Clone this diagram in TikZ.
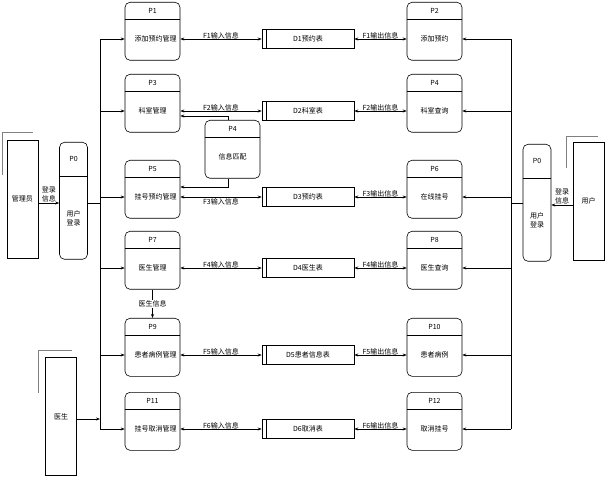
\documentclass[tikz,border=0pt]{standalone}
\usepackage{fontspec}
\setmainfont{Liberation Serif}
\newfontfamily\cjk{Noto Sans CJK SC}
\usetikzlibrary{arrows.meta}

\tikzset{
  procbox/.style={draw, rounded corners=5pt, minimum width=55pt, minimum height=58pt, anchor=north, inner sep=0pt},
  logbox/.style={draw, rounded corners=5pt, minimum width=28pt, minimum height=117pt, anchor=north, inner sep=0pt},
  storebox/.style={draw, minimum width=92pt, minimum height=19pt, inner sep=0pt},
  entbox/.style={draw, minimum width=31pt, minimum height=118pt, anchor=north, inner sep=0pt},
  shade/.style={draw=gray, line width=1pt},
  txt/.style={font=\cjk\fontsize{7}{9}\selectfont, inner sep=1pt, align=center},
  flow/.style={-{Stealth[length=4pt,width=3pt]}},
  dflow/.style={{Stealth[length=4pt,width=3pt]}-{Stealth[length=4pt,width=3pt]}}
}
% process box with header
\newcommand{\proc}[5]{%
  \node[procbox] (#1) at (#2,#3) {};
  \draw ([yshift=-17pt]#1.north west) -- ([yshift=-17pt]#1.north east);
  \node[txt] at ([yshift=-8.5pt]#1.north) {#4};
  \node[txt, text width=36pt] (#1t) at ([yshift=-37pt]#1.north) {#5};}
% data store
\newcommand{\store}[3]{%
  \node[storebox] (#1) at (308,#2) {};
  \draw ([xshift=5pt]#1.north west) -- ([xshift=5pt]#1.south west);
  \node[txt] at (#1) {#3};}

\begin{document}
\begin{tikzpicture}[x=1pt, y=-1pt, line width=0.6pt]
\useasboundingbox (0,0) rectangle (605,478);

% processes
\proc{p1}{152.5}{2}{P1}{添加预约管理}
\proc{p3}{152.5}{74}{P3}{科室管理}
\proc{p5}{152.5}{160}{P5}{挂号预约管理}
\proc{p7}{152.5}{231}{P7}{医生管理}
\proc{p9}{152.5}{318}{P9}{患者病例管理}
\proc{p11}{152.5}{392}{P11}{挂号取消管理}
\proc{p2}{434.5}{2}{P2}{添加预约}
\proc{p4r}{434.5}{74}{P4}{科室查询}
\proc{p6}{434.5}{160}{P6}{在线挂号}
\proc{p8}{434.5}{231}{P8}{医生查询}
\proc{p10}{434.5}{318}{P10}{患者病例}
\proc{p12}{434.5}{392}{P12}{取消挂号}
\proc{p4}{232.5}{120}{P4}{信息匹配}

% stores
\store{d1}{39}{D1预约表}
\store{d2}{111}{D2科室表}
\store{d3}{197}{D3预约表}
\store{d4}{268}{D4医生表}
\store{d5}{355}{D5患者信息表}
\store{d6}{429}{D6取消表}

% flows between processes and stores
\foreach \l/\d/\r/\n in {p1/d1/p2/1, p3/d2/p4r/2, p7/d4/p8/4, p9/d5/p10/5, p11/d6/p12/6}{
  \draw[dflow] (\l t -| \l.east) -- node[txt, above=-1pt] {F\n 输入信息} (\d.west);
  \draw[dflow] (\d.east) -- node[txt, above=-1pt] {F\n 输出信息} (\r t -| \r.west);
}
\draw[dflow] (p5t -| p5.east) -- node[txt, below=0pt] {F3输入信息} (d3.west);
\draw[dflow] (d3.east) -- node[txt, above=-1pt] {F3输出信息} (p6t -| p6.west);

% P4 matching
\coordinate (m3) at (228,116);
\coordinate (m5) at (228,187);
\draw[flow] (p4.north -| m3) -- (m3) -- (m3 -| p3.east);
\draw[flow] (p4.south -| m5) -- (m5) -- (m5 -| p5.east);

% doctor info
\draw[flow] (p7.south) -- node[txt, fill=white] {医生信息} (p9.north);

% left login
\node[entbox] (adm) at (22.5,140) {};
\node[txt] at (adm) {管理员};
\draw[shade] (33,133) -- (2,133) -- (2,175);
\node[logbox] (p0l) at (73.5,142) {};
\draw ([yshift=-34pt]p0l.north west) -- ([yshift=-34pt]p0l.north east);
\node[txt] at ([yshift=-17pt]p0l.north) {P0};
\node[txt] (p0lt) at ([yshift=-76pt]p0l.north) {用户\\登录};
\draw[flow] (adm.east |- 0,203) -- node[txt, above] {登录\\信息} (p0l.west |- 0,203);

\coordinate (ltop) at (100,39);
\coordinate (lbot) at (100,429);
\draw (ltop) -- (lbot);
\draw (p0l.east |- 0,203) -- (ltop |- 0,203);
\foreach \p in {p1,p3,p5,p7,p9,p11}
  \draw[flow] (ltop |- \p t) -- (\p t -| \p.west);

% doctor
\node[entbox] (doc) at (61,357) {};
\node[txt] at (doc) {医生};
\draw[shade] (72,350) -- (38,350) -- (38,393);
\draw[flow] (doc.east |- 0,419) -- (ltop |- 0,419);

% right login
\node[entbox] (usr) at (588.5,142) {};
\node[txt] at (usr) {用户};
\draw[shade] (598,137) -- (566,137) -- (566,168);
\node[logbox] (p0r) at (537,144) {};
\draw ([yshift=-34pt]p0r.north west) -- ([yshift=-34pt]p0r.north east);
\node[txt] at ([yshift=-17pt]p0r.north) {P0};
\node[txt] (p0rt) at ([yshift=-76pt]p0r.north) {用户\\登录};
\draw[flow] (usr.west |- 0,205) -- node[txt, above] {登录\\信息} (p0r.east |- 0,205);

\coordinate (rtop) at (511,39);
\coordinate (rbot) at (511,429);
\draw (rtop) -- (rbot);
\draw (p0r.west |- 0,203) -- (rtop |- 0,203);
\foreach \p in {p2,p4r,p6,p8,p10,p12}
  \draw[flow] (rtop |- \p t) -- (\p t -| \p.east);
\end{tikzpicture}
\end{document}
